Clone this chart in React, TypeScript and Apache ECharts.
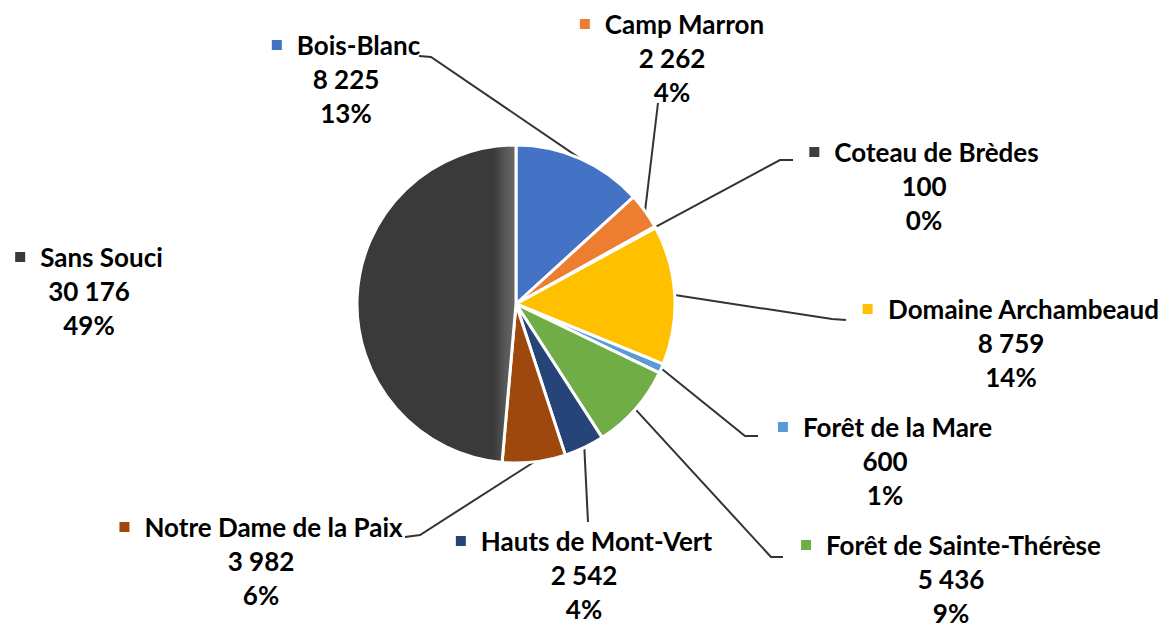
import React, { useEffect, useRef } from 'react';
import * as echarts from 'echarts';

const categories = [
  'Bois-Blanc',
  'Camp Marron',
  'Coteau de Brèdes',
  'Domaine Archambeaud',
  'Forêt de la Mare',
  'Forêt de Sainte-Thérèse',
  'Hauts de Mont-Vert',
  'Notre Dame de la Paix',
  'Sans Souci',
];
const values = [8225, 2262, 100, 8759, 600, 5436, 2542, 3982, 30176];
const colors = ['#4472C4', '#ED7D31', '#3F3F3F', '#FFC000', '#5B9BD5', '#70AD47', '#264478', '#9E480E', '#3A3A3A'];

// label block placement (center x, top y) and leader line attachment
const labelPlacement: { x: number; y: number; end: number[] | null; bend: number[] | null }[] = [
  { x: 346, y: 28, end: [419, 56], bend: [431, 57] },
  { x: 672, y: 7, end: [658, 103], bend: null },
  { x: 924, y: 135, end: [793, 160], bend: [780, 160] },
  { x: 1011, y: 292, end: [846, 320], bend: [832, 319] },
  { x: 885, y: 410, end: [758, 436], bend: [745, 436] },
  { x: 951, y: 528, end: [783, 557], bend: [771, 557] },
  { x: 584, y: 524, end: [588, 522], bend: null },
  { x: 261, y: 510, end: [405, 537], bend: [420, 535] },
  { x: 89, y: 240, end: null, bend: null },
];

const fmtNum = (v: number) => String(v).replace(/\B(?=(\d{3})+(?!\d))/g, ' ');

export default function App() {
  const ref = useRef<HTMLDivElement>(null);
  useEffect(() => {
    document.body.style.margin = '0';
    if (!ref.current) return;
    const chart = echarts.init(ref.current, undefined, { renderer: 'svg' });
    const rich: Record<string, any> = {
      n: { padding: [0, 0, 0, 15], fontFamily: 'Lato', fontWeight: 'bold', fontSize: 26, color: '#000', lineHeight: 34 },
      v: { fontFamily: 'Lato', fontWeight: 'bold', fontSize: 26, color: '#000', lineHeight: 34 },
    };
    colors.forEach((c, i) => {
      rich['m' + i] = { width: 10, height: 10, backgroundColor: c };
    });
    const data = categories.map((name, i) => ({
      name,
      value: values[i],
      itemStyle: {
        color:
          i === 8
            ? new echarts.graphic.LinearGradient(0, 0, 1, 0, [
                { offset: 0, color: '#3A3A3A' },
                { offset: 0.86, color: '#3A3A3A' },
                { offset: 0.93, color: '#575757' },
                { offset: 1, color: '#6A6A6A' },
              ])
            : colors[i],
      },
      labelLine: { show: labelPlacement[i].end != null },
    }));
    chart.setOption({
      animation: false,
      backgroundColor: '#fff',
      series: [
        {
          type: 'pie',
          center: [516, 304],
          radius: 159,
          startAngle: 90,
          clockwise: true,
          avoidLabelOverlap: false,
          data,
          itemStyle: { borderColor: '#fff', borderWidth: 3 },
          label: {
            show: true,
            position: 'outside',
            align: 'center',
            lineHeight: 34,
            fontFamily: 'Lato',
            fontWeight: 'bold',
            fontSize: 26,
            color: '#000',
            formatter: (p: any) =>
              `{m${p.dataIndex}|}{n|${p.name}}\n{v|${fmtNum(p.value)}}\n{v|${Math.round(p.percent)}%}`,
            rich,
          },
          labelLine: {
            show: true,
            smooth: false,
            lineStyle: { color: '#333333', width: 2 },
          },
          labelLayout: (params: any) => {
            const lp = labelPlacement[params.dataIndex];
            const res: any = { x: lp.x, y: lp.y, align: 'center', verticalAlign: 'top' };
            const pts = params.labelLinePoints;
            if (lp.end && pts && pts[0]) {
              const p0 = pts[0];
              res.labelLinePoints = lp.bend ? [p0, lp.bend, lp.end] : [p0, lp.end, lp.end];
            }
            return res;
          },
        },
      ],
    });
    return () => chart.dispose();
  }, []);
  return <div ref={ref} style={{ width: 1168, height: 629 }} />;
}
